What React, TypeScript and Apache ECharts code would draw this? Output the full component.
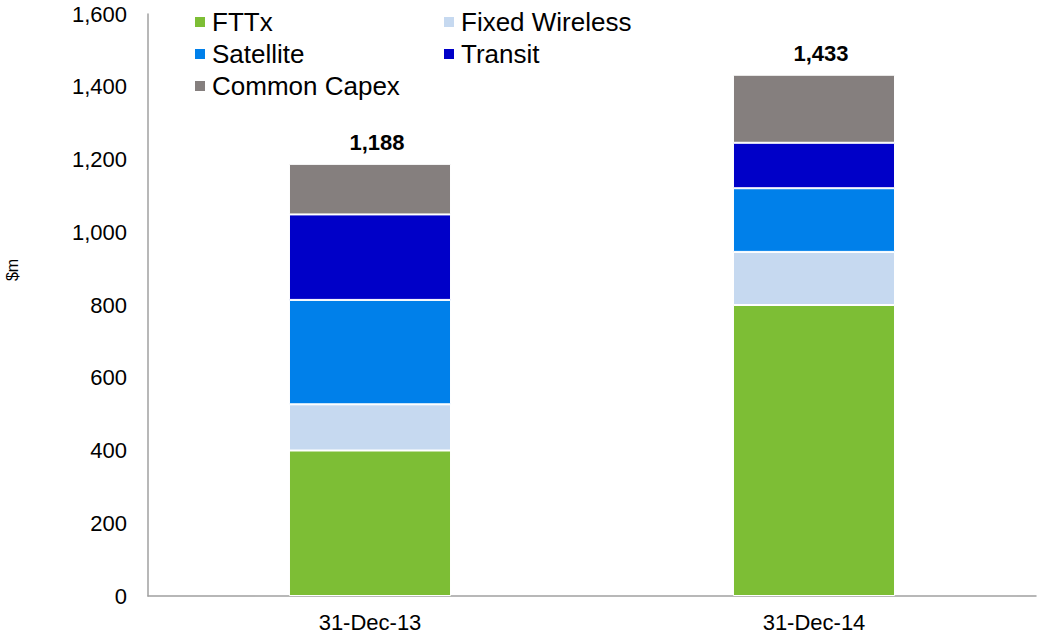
import React, { useEffect, useRef } from "react";
import * as echarts from "echarts";

const categories = ["31-Dec-13", "31-Dec-14"];
const fttx = [400, 800];
const fixedWireless = [127, 146];
const satellite = [287, 175];
const transit = [235, 125];
const commonCapex = [139, 187];
const totals = [1188, 1433];
const yTicks = [0, 200, 400, 600, 800, 1000, 1200, 1400, 1600];

const colors = {
  fttx: "#7DBE35",
  fw: "#C6D9F0",
  sat: "#0080EA",
  transit: "#0000C8",
  common: "#857F7E",
};

export default function App() {
  const ref = useRef<HTMLDivElement>(null);
  useEffect(() => {
    if (!ref.current) return;
    const chart = echarts.init(ref.current, undefined, { renderer: "svg" });
    const font = "Arial, 'Liberation Sans', sans-serif";
    const mk = (name: string, data: number[], color: string, extra: any = {}) => ({
      name,
      type: "bar",
      stack: "total",
      data,
      barWidth: "36.5%",
      itemStyle: { color, borderColor: "#ffffff", borderWidth: 1 },
      ...extra,
    });
    const legendBase = {
      orient: "vertical",
      top: 4,
      itemGap: 6,
      itemWidth: 12,
      itemHeight: 12,
      icon: "rect",
      textStyle: { fontSize: 26, color: "#000", fontFamily: font, padding: [0, 0, 0, 1] },
    };
    chart.setOption({
      animation: false,
      textStyle: { fontFamily: font },
      grid: { left: 148, right: 3, top: 14, bottom: 41 },
      graphic: [
        {
          type: "text",
          x: 12,
          y: 270,
          rotation: Math.PI / 2,
          style: {
            text: "$m",
            fontSize: 16,
            fill: "#000",
            fontFamily: font,
            align: "center",
            verticalAlign: "middle",
          },
        },
      ],
      legend: [
        { ...legendBase, left: 188, data: ["FTTx", "Satellite", "Common Capex"] },
        { ...legendBase, left: 437, data: ["Fixed Wireless", "Transit"] },
      ],
      xAxis: {
        type: "category",
        data: categories,
        axisLine: { lineStyle: { color: "#A0A0A0", width: 1.5 } },
        axisTick: { show: false },
        axisLabel: { color: "#000", fontSize: 22, margin: 15, fontFamily: font },
      },
      yAxis: {
        type: "value",
        min: 0,
        max: yTicks[yTicks.length - 1],
        interval: 200,
        axisLine: { show: true, lineStyle: { color: "#A0A0A0", width: 1.5 } },
        axisTick: { show: false },
        splitLine: { show: false },
        axisLabel: {
          color: "#000",
          fontSize: 22,
          margin: 21,
          fontFamily: font,
          formatter: (v: number) => v.toLocaleString("en-US"),
        },
      },
      series: [
        mk("FTTx", fttx, colors.fttx),
        mk("Fixed Wireless", fixedWireless, colors.fw),
        mk("Satellite", satellite, colors.sat),
        mk("Transit", transit, colors.transit),
        mk("Common Capex", commonCapex, colors.common, {
          label: {
            show: true,
            position: "top",
            distance: 10,
            offset: [7, 0],
            fontSize: 22,
            fontWeight: "bold",
            color: "#000",
            fontFamily: font,
            formatter: (p: any) => totals[p.dataIndex].toLocaleString("en-US"),
          },
        }),
      ],
    });
    return () => chart.dispose();
  }, []);
  return (
    <div
      ref={ref}
      style={{ position: "fixed", left: 0, top: 0, width: 1039, height: 637, background: "#fff" }}
    />
  );
}
